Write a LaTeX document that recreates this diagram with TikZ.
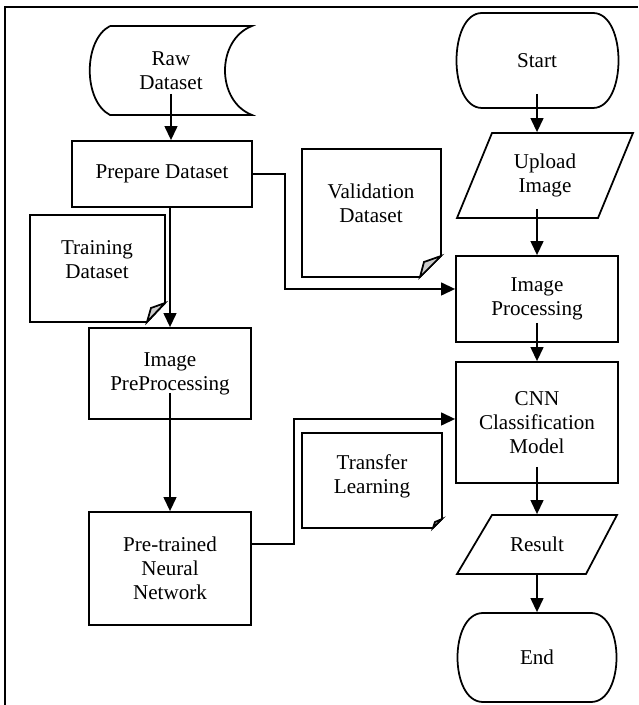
\documentclass[tikz,border=0pt]{standalone}
\usepackage{fontspec}
\setmainfont{Liberation Serif}
\usetikzlibrary{arrows.meta, positioning, calc}

\begin{document}
\begin{tikzpicture}[x=0.03cm, y=0.03cm, line width=1.5pt,
    txt/.style={align=center, inner sep=0pt, font=\fontsize{18}{20.5}\selectfont},
    procbox/.style={txt, draw, minimum width=4.86cm},
    arr/.style={-{Triangle[length=12pt,width=11pt]}}]
    \useasboundingbox (0,0) rectangle (638,705);

    % Frame
    \draw (5,0) -- (5,698) -- (638,698);

    % Left column
    \draw (110,679) -- (252,679) .. controls (216,665) and (216,604) .. (252,590) -- (110,590) .. controls (83,604) and (83,665) .. (110,679);
    \node[txt, minimum width=4.86cm, minimum height=2.67cm] (raw) at (171,634.5) {Raw\\Dataset};
    \node[procbox, minimum width=5.4cm, minimum height=1.98cm] (prep) at (162,531) {Prepare Dataset};
    \draw (30,490) -- (165,490) -- (165,402) -- (147,383) -- (30,383) -- cycle;
    \filldraw[fill=gray!40] (147,383) -- (151,397) -- (165,402) -- cycle;
    \node[txt] (train) at (97,445) {Training\\Dataset};
    \node[procbox, minimum height=2.73cm] (imgpre) at (170,331.5) {Image\\PreProcessing};
    \node[procbox, minimum height=3.39cm] (pretrained) at (170,136.5) {Pre-trained\\Neural\\Network};

    % Middle documents
    \draw (302,556) -- (441,556) -- (441,449) -- (420,428) -- (302,428) -- cycle;
    \filldraw[fill=gray!40] (420,428) -- (424,443) -- (441,449) -- cycle;
    \node[txt] (valid) at (371,502) {Validation\\Dataset};
    \draw (302,272) -- (442,272) -- (442,186) -- (433,177) -- (302,177) -- cycle;
    \filldraw[fill=gray!40] (433,177) -- (435,183) -- (442,186) -- cycle;
    \node[txt] (transfer) at (372,229) {Transfer\\Learning};

    % Right column
    \draw (482,692) -- (593,692) .. controls (627,692) and (627,597) .. (593,597) -- (482,597) .. controls (448,597) and (448,692) .. (482,692);
    \node[txt, minimum width=4.92cm, minimum height=2.85cm] (start) at (537,644.5) {Start};
    \draw (492,572) -- (633,572) -- (598,487) -- (457,487) -- cycle;
    \node[txt, minimum width=4.23cm, minimum height=2.55cm] (upload) at (545,529.5) {Upload\\Image};
    \node[procbox, minimum height=2.58cm] (imgproc) at (537,406) {Image\\Processing};
    \node[procbox, minimum height=3.63cm] (cnn) at (537,282.5) {CNN\\Classification\\Model};
    \draw (492,190) -- (617,190) -- (586,131) -- (457,131) -- cycle;
    \node[txt, minimum width=3.75cm, minimum height=1.77cm] (result) at (537,160.5) {Result};
    \draw (483,92) -- (591,92) .. controls (625,92) and (625,3) .. (591,3) -- (483,3) .. controls (449,3) and (449,92) .. (483,92);
    \node[txt, minimum width=4.86cm, minimum height=2.67cm] (end) at (537,47.5) {End};

    % Connectors
    \draw[arr] ($(raw.south)+(0,22)$) -- (raw.south |- prep.north);
    \draw[arr] (prep.south -| imgpre.north) -- (imgpre.north);
    \draw[arr] (prep.east) -- ++(32,0) |- ($(imgproc.west)+(0,10)$);
    \draw[arr] ($(imgpre.south)+(0,27)$) -- (pretrained.north);
    \draw[arr] ($(pretrained.east)+(0,24.5)$) -- ++(42,0) |- ($(cnn.west)+(0,3.5)$);
    \draw[arr] ($(start.south)+(0,15)$) -- (start.south |- upload.north);
    \draw[arr] ($(upload.south -| imgproc.north)+(0,10)$) -- (imgproc.north);
    \draw[arr] ($(imgproc.south)+(0,20)$) -- (cnn.north);
    \draw[arr] ($(cnn.south)+(0,17)$) -- (result.north);
    \draw[arr] (result.south) -- (end.north);
\end{tikzpicture}
\end{document}
